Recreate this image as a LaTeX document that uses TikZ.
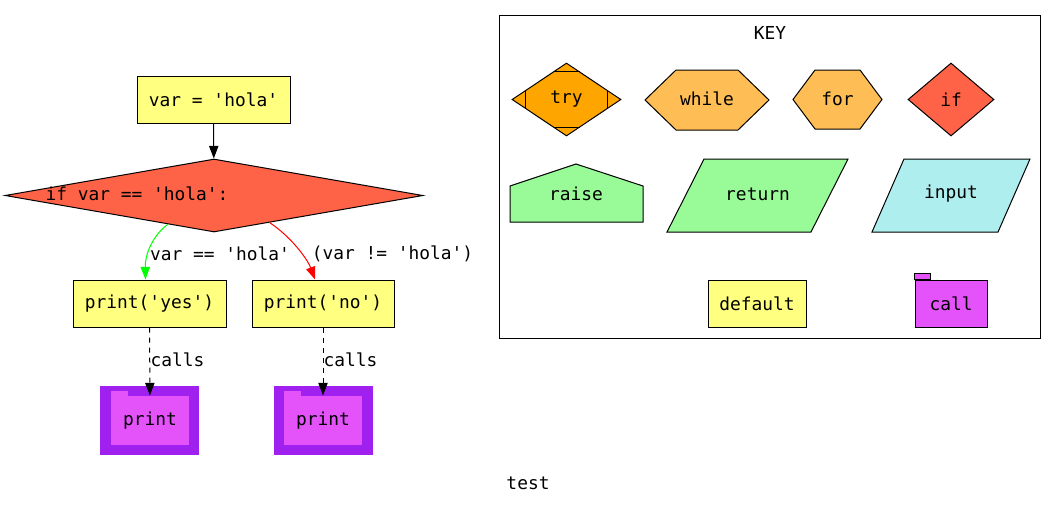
\documentclass[tikz,border=0pt]{standalone}
\usepackage{fontspec}
\setmonofont{DejaVu Sans Mono}
\usepackage{tikz}
\usetikzlibrary{arrows.meta, positioning, shapes.geometric, calc}
\definecolor{defbgcolor}{RGB}{255, 255, 128}
\definecolor{trybgcolor}{RGB}{255, 165, 0}
\definecolor{loopbgcolor}{RGB}{255, 190, 85}
\definecolor{ifbgcolor}{RGB}{255, 99, 71}
\definecolor{retbgcolor}{RGB}{152, 251, 152}
\definecolor{inbgcolor}{RGB}{175, 238, 238}
\definecolor{callbgcolor}{RGB}{228, 82, 250}
\definecolor{boxbgcolor}{RGB}{160, 32, 240}

\begin{document}
\begin{tikzpicture}[x=0.75pt, y=-0.75pt, line width=0.75pt,
  every node/.style={font=\ttfamily\fontsize{13.4}{16}\selectfont, inner sep=0pt},
  stmt/.style={draw, fill=defbgcolor, minimum height=35.25pt},
  cond/.style={draw, diamond, fill=ifbgcolor, minimum height=54.75pt},
  callbox/.style={fill=boxbgcolor, minimum width=74.25pt, minimum height=51.75pt},
  callbody/.style={fill=callbgcolor, minimum width=58.5pt, minimum height=36.75pt},
  arr/.style={-{Triangle[length=9.5pt, width=7pt]}},
  callarr/.style={arr, dash pattern=on 3.75pt off 3.75pt}]
  \useasboundingbox (0,0) rectangle (1056,508);

  % Flow
  \node[stmt, minimum width=114.75pt] (assign) at (213.5,99.5) {var = 'hola'};
  \node[cond, minimum width=313.5pt] (cond) at (214,195.5) {};
  \node (condtext) at (137,194) {if var == 'hola':};
  \node[stmt, minimum width=114.75pt] (yes) at (149.5,303.5) {print('yes')};
  \node[stmt, minimum width=106.5pt] (no) at (323,303.5) {print('no')};

  % Called functions
  \node[callbox] (box1) at (149.5,420.5) {};
  \node[callbody] (print1) at (150,420.5) {print};
  \fill[callbgcolor] (print1.north west) rectangle ++(17,-5);
  \node[callbox] (box2) at (323,420.5) {};
  \node[callbody] (print2) at (323,420.5) {print};
  \fill[callbgcolor] (print2.north west) rectangle ++(17,-5);

  % Arrows
  \draw[arr] (assign) -- (cond);
  \draw[arr, green] (cond.212) .. controls (152,236) and (145,255) .. ([xshift=-3pt]yes.north);
  \draw[arr, red] (cond.334) .. controls (290,236) and (307,258) .. ([xshift=-6pt]no.north);
  \node (lblyes) at (220,254) {var == 'hola'};
  \node (lblno) at (392.5,254) {(var != 'hola')};
  \draw[callarr] (yes) -- (print1);
  \draw[callarr] (no) -- (print2);
  \node (calls1) at (177.5,360) {calls};
  \node (calls2) at (350.5,360) {calls};

  % Key
  \node[draw, minimum width=405.75pt, minimum height=242.25pt] (key) at (769.5,176.5) {};
  \node (keytitle) at (770,33) {KEY};
  \node[draw, diamond, fill=trybgcolor, minimum width=81.75pt, minimum height=54.75pt] (try) at (566.5,99.5) {try};
  \draw ($(try.north)+(-13,9)$) -- ($(try.north)+(13,9)$);
  \draw ($(try.south)+(-13,-9)$) -- ($(try.south)+(13,-9)$);
  \draw ($(try.west)+(14,-9)$) -- ($(try.west)+(14,9)$);
  \draw ($(try.east)+(-14,-9)$) -- ($(try.east)+(-14,9)$);
  \filldraw[fill=loopbgcolor] (645,100) -- (676,70) -- (738,70) -- (769,100) -- (738,130) -- (676,130) -- cycle;
  \node (while) at (707,99) {while};
  \filldraw[fill=loopbgcolor] (793,99.5) -- (815,70) -- (860,70) -- (882,99.5) -- (860,129) -- (815,129) -- cycle;
  \node (for) at (837.5,99) {for};
  \node[cond, minimum width=64.5pt] (if) at (951,99.5) {if};
  \filldraw[fill=retbgcolor] (510,222) -- (510,186) -- (576,164) -- (643,186) -- (643,222) -- cycle;
  \node (raise) at (576,194) {raise};
  \filldraw[fill=retbgcolor] (667,232) -- (704,159) -- (848,159) -- (811,232) -- cycle;
  \node (return) at (757.5,194) {return};
  \filldraw[fill=inbgcolor] (872,232) -- (904,159) -- (1030,159) -- (998,232) -- cycle;
  \node (input) at (951,194) {input};
  \node[stmt, minimum width=73.5pt] (default) at (757,303.5) {default};
  \node[draw, fill=callbgcolor, minimum width=54pt, minimum height=35.25pt] (call) at (951,303.5) {call};
  \filldraw[fill=callbgcolor] (call.north west) rectangle ++(16,-6);

  \node (caption) at (528,483) {test};
\end{tikzpicture}
\end{document}
